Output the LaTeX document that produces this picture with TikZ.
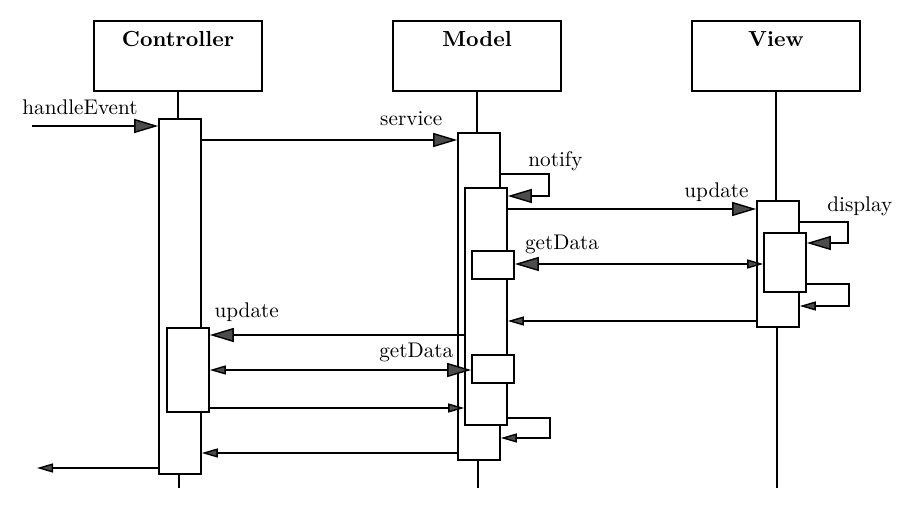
\documentclass[tikz,border=0pt]{standalone}
\usetikzlibrary{arrows.meta}
\tikzset{
	bigtip/.tip={Triangle[length=12pt,width=7pt,fill=black!70]},
	smalltip/.tip={Triangle[length=8pt,width=4.5pt,fill=black!70]}
}
\begin{document}
\begin{tikzpicture}[x=0.5pt,y=-0.5pt,
	head/.style={draw,line width=0.9pt,minimum width=84pt,inner sep=4.5pt,text height=8.5pt,text depth=17.5pt,font=\fontsize{10.9}{13}\selectfont\bfseries},
	act/.style={draw,fill=white,line width=0.8pt,minimum width=21pt,inner sep=0pt},
	wire/.style={line width=0.7pt},
	msg/.style={wire,-{bigtip}},
	ret/.style={wire,-{smalltip}},
	lbl/.style={anchor=base,inner sep=0pt,font=\fontsize{10.6}{12}\selectfont}]
	\useasboundingbox (0,0) rectangle (902,518);
	\node[head] (ctrl) at (178,56) {Controller};
	\node[head] (model) at (477,56) {Model};
	\node[head] (view) at (776,56) {View};
	\node[act,minimum height=177.5pt] (cA) at (180,296.5) {};
	\node[act,minimum height=42pt] (cB) at (188,370) {};
	\node[act,minimum height=163.5pt] (mA) at (479,296.5) {};
	\node[act,minimum height=118.5pt] (mB) at (486,306.5) {};
	\node[act,minimum height=14pt] (mC) at (493,265) {};
	\node[act,minimum height=14pt] (mD) at (493,369) {};
	\node[act,minimum height=63pt] (vA) at (778,264) {};
	\node[act,minimum height=29.5pt] (vB) at (785,262.5) {};
	\coordinate (cEnd) at (179,488);
	\coordinate (mEnd) at (478,488);
	\coordinate (vEnd) at (777,488);
	\coordinate (inStart) at (32,126);
	\coordinate (outEnd) at (37,468);
	\draw[wire] (ctrl.south) -- (ctrl.south |- cA.north);
	\draw[wire] (model.south) -- (model.south |- mA.north);
	\draw[wire] (view.south) -- (view.south |- vA.north);
	\draw[wire] (cEnd |- cA.south) -- (cEnd);
	\draw[wire] (mEnd |- mA.south) -- (mEnd);
	\draw[wire] (vEnd |- vA.south) -- (vEnd);
	\draw[msg] (inStart) -- node[lbl,pos=0.38,yshift=5.5pt] {handleEvent} (cA.west |- inStart);
	\draw[msg] (cA.east |- 0,140) -- node[lbl,pos=0.82,yshift=7pt] {service} (mA.west |- 0,140);
	\draw[msg] (mA.east |- 0,174) -- node[lbl,pos=0.56,anchor=base west,yshift=3.5pt] {notify} ++(48,0) |- (mB.east |- 0,196);
	\draw[msg] (mB.east |- 0,209) -- node[lbl,pos=0.84,yshift=5.5pt] {update} (vA.west |- 0,209);
	\draw[msg] (vA.east |- 0,222) -- node[lbl,pos=0.56,anchor=base west,yshift=5pt] {display} ++(48,0) |- (vB.east |- 0,243);
	\draw[wire,{bigtip}-{smalltip}] (mC.east |- 0,264) -- node[lbl,pos=0.19,yshift=7pt] {getData} (vB.west |- 0,264);
	\draw[ret] (vB.east |- 0,284) -- ++(42,0) |- (vA.east |- 0,306);
	\draw[ret] (vA.west |- 0,321) -- (mB.east |- 0,321);
	\draw[msg] (mB.west |- 0,335) -- node[lbl,pos=0.855,yshift=8.5pt] {update} (cB.east |- 0,335);
	\draw[wire,{smalltip}-{bigtip}] (cB.east |- 0,370) -- node[lbl,pos=0.79,yshift=6pt] {getData} (mD.west |- 0,370);
	\draw[ret] (cB.east |- 0,408) -- (mB.west |- 0,408);
	\draw[ret] (mB.east |- 0,418) -- ++(42,0) |- (mA.east |- 0,438);
	\draw[ret] (mA.west |- 0,453) -- (cA.east |- 0,453);
	\draw[ret] (cA.west |- outEnd) -- (outEnd);
\end{tikzpicture}
\end{document}
